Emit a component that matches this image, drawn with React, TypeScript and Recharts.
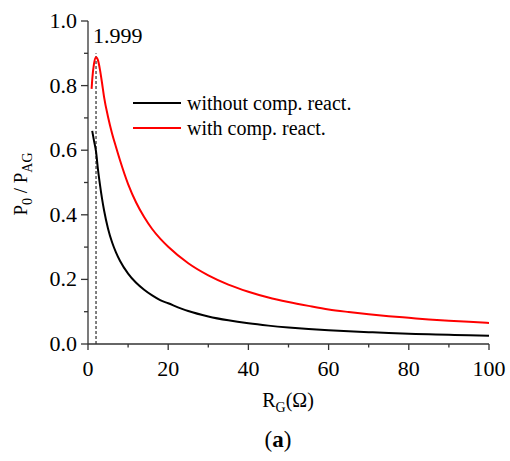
import { LineChart, Line, XAxis, YAxis, ReferenceLine, Legend, Customized } from "recharts";

const rG = [0.9, 1.05, 1.5, 2, 2.5, 3, 3.5, 4, 5, 6, 7, 8, 10, 12, 14, 16, 18, 20, 25, 30, 35, 40, 45, 50, 55, 60, 65, 70, 75, 80, 85, 90, 95, 100];
const withComp = [0.79, 0.818, 0.868, 0.888, 0.878, 0.848, 0.808, 0.765, 0.703, 0.652, 0.609, 0.568, 0.495, 0.438, 0.393, 0.356, 0.326, 0.301, 0.25, 0.2125, 0.184, 0.162, 0.144, 0.13, 0.118, 0.107, 0.099, 0.092, 0.086, 0.081, 0.076, 0.072, 0.069, 0.065];
const withoutComp = [null, 0.66, 0.629, 0.596, 0.539, 0.492, 0.45, 0.414, 0.357, 0.315, 0.283, 0.257, 0.218, 0.1895, 0.168, 0.1505, 0.136, 0.126, 0.102, 0.0853, 0.0732, 0.064, 0.0569, 0.0512, 0.0465, 0.0427, 0.0394, 0.0366, 0.0341, 0.032, 0.0301, 0.0284, 0.027, 0.0256];
const seriesNames = ["without comp. react.", "with comp. react."];
const xTicks = [0, 10, 20, 30, 40, 50, 60, 70, 80, 90, 100];
const yTicks = [0, 0.1, 0.2, 0.3, 0.4, 0.5, 0.6, 0.7, 0.8, 0.9, 1.0];
const peakX = 1.999;

const data = rG.map((r, i) => ({ r, without: withoutComp[i], with: withComp[i] }));

const FONT = "Liberation Serif, serif";
const AXIS = "#333";

function XTick(props: any) {
  const { x, y, payload } = props;
  const v = payload.value;
  const major = v % 20 === 0;
  return (
    <g>
      <line x1={x} x2={x} y1={y} y2={y + (major ? 6 : 3.5)} stroke={AXIS} strokeWidth={1.3} />
      {major && (
        <text x={x} y={y + 32} textAnchor="middle" fontSize={22} style={{ fontFamily: FONT }} fill="#000">
          {v}
        </text>
      )}
    </g>
  );
}

function YTick(props: any) {
  const { x, y, payload } = props;
  const v = payload.value;
  const major = Math.round(v * 10) % 2 === 0;
  return (
    <g>
      <line x1={x} x2={x - (major ? 7 : 4)} y1={y} y2={y} stroke={AXIS} strokeWidth={1.3} />
      {major && (
        <text x={x - 11} y={y + 7} textAnchor="end" fontSize={22} style={{ fontFamily: FONT }} fill="#000">
          {v.toFixed(1)}
        </text>
      )}
    </g>
  );
}

function LegendBox(props: any) {
  const items = [...(props.payload || [])].sort(
    (a: any, b: any) => seriesNames.indexOf(a.value) - seriesNames.indexOf(b.value)
  );
  return (
    <div style={{ fontFamily: FONT, fontSize: 20, color: "#000" }}>
      {items.map((it: any) => (
        <div key={it.value} style={{ display: "flex", alignItems: "center", height: 24.5 }}>
          <svg width={48} height={4}>
            <line x1={0} x2={48} y1={2} y2={2} stroke={it.color} strokeWidth={2} />
          </svg>
          <span style={{ marginLeft: 6, lineHeight: "20px" }}>{it.value}</span>
        </div>
      ))}
    </div>
  );
}

function Titles() {
  return (
    <g style={{ fontFamily: FONT }} fill="#000">
      <text x={288} y={407} textAnchor="middle" fontSize={20}>
        R<tspan fontSize={14} dy={5}>G</tspan>
        <tspan dy={-5}>(Ω)</tspan>
      </text>
      <text x={27} y={184} textAnchor="middle" fontSize={19} transform="rotate(-90, 27, 184)">
        P<tspan fontSize={14} dy={5}>0</tspan>
        <tspan dy={-5}> / P</tspan>
        <tspan fontSize={14} dy={5}>AG</tspan>
      </text>
      <text x={278} y={447} textAnchor="middle" fontSize={23}>
        (<tspan fontWeight="bold">a</tspan>)
      </text>
    </g>
  );
}

export default function App() {
  return (
    <div style={{ position: "fixed", left: 0, top: 0, background: "#fff", fontFamily: FONT }}>
      <LineChart width={510} height={461} data={data} margin={{ top: 21, right: 21, left: 0, bottom: 77 }}>
        <XAxis
          dataKey="r"
          type="number"
          domain={[0, 100]}
          ticks={xTicks}
          interval={0}
          height={40}
          tickSize={0}
          tickMargin={0}
          tickLine={false}
          axisLine={{ stroke: AXIS, strokeWidth: 1.3 }}
          tick={<XTick />}
        />
        <YAxis
          type="number"
          domain={[0, 1]}
          ticks={yTicks}
          interval={0}
          width={88}
          tickSize={0}
          tickMargin={0}
          tickLine={false}
          axisLine={{ stroke: AXIS, strokeWidth: 1.3 }}
          tick={<YTick />}
        />
        <ReferenceLine
          segment={[{ x: peakX, y: 0 }, { x: peakX, y: 0.9 }]}
          stroke="#000"
          strokeWidth={1}
          strokeDasharray="3 2"
          label={(p: any) => {
            const vb = p.viewBox || {};
            return (
              <text x={(vb.x ?? 96) - 3} y={(vb.y ?? 53) - 10} fontSize={22} style={{ fontFamily: FONT }} fill="#000">
                {peakX}
              </text>
            );
          }}
        />
        <Line
          dataKey="without"
          name={seriesNames[0]}
          stroke="#000"
          strokeWidth={2}
          dot={false}
          type="monotone"
          isAnimationActive={false}
        />
        <Line
          dataKey="with"
          name={seriesNames[1]}
          stroke="#ff0000"
          strokeWidth={2}
          dot={false}
          type="monotone"
          isAnimationActive={false}
        />
        <Legend
          layout="vertical"
          align="center"
          verticalAlign="middle"
          wrapperStyle={{ left: 133, top: 91, width: "auto" }}
          content={<LegendBox />}
        />
        <Customized component={<Titles />} />
      </LineChart>
    </div>
  );
}
